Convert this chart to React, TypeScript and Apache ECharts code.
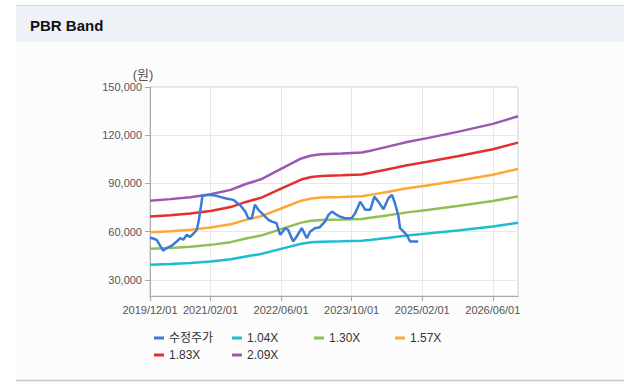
import React, { useEffect, useRef } from 'react';
import * as echarts from 'echarts';

// x positions are in axis units (months along the chart's axis)
const xTickPositions = [0, 12, 26, 40, 54, 68];
const xTickLabels = ['2019/12/01', '2021/02/01', '2022/06/01', '2023/10/01', '2025/02/01', '2026/06/01'];
const xMax = 73;

const yTickValues = [30000, 60000, 90000, 120000, 150000];
const yMin = 20000;
const yMax = 150000;

// 수정주가 : [axis position, price]
const priceSeries: [number, number][] = [
  [0, 56400], [1.3, 55000], [2.0, 51300], [2.6, 48200], [3.3, 49800], [4.3, 51300],
  [5.3, 53900], [6.0, 56000], [6.6, 55000], [7.3, 58100], [7.9, 56700], [8.6, 58700],
  [9.3, 61200], [9.7, 67400], [10.1, 75600], [10.4, 82300], [11.6, 82900], [13.2, 82300],
  [14.9, 80800], [16.5, 79800], [17.9, 76400], [18.9, 72500], [19.5, 68400], [20.2, 68400],
  [20.8, 76700], [21.5, 73600], [22.5, 70500], [23.5, 67400], [24.2, 66300], [25.1, 65300],
  [25.8, 58100], [26.1, 59100], [26.8, 62200], [27.4, 61200], [28.4, 53900], [29.1, 57000],
  [30.1, 62200], [31.1, 56000], [31.8, 60100], [32.7, 62200], [33.7, 62800], [34.7, 66300],
  [35.4, 70500], [36.1, 72500], [37.0, 70500], [37.7, 69400], [38.7, 68400], [40.0, 68400],
  [40.7, 71500], [41.7, 78700], [42.7, 73600], [43.7, 73600], [44.5, 81800], [45.3, 78700],
  [46.3, 74000], [47.3, 80800], [48.0, 82900], [48.6, 77700], [49.3, 69400], [49.6, 62200],
  [50.3, 60100], [50.9, 58100], [51.6, 53900], [53.2, 53900],
];

const bpsSeries: [number, number][] = [
  [0, 37950], [4, 38400], [8, 38950], [12, 39850], [16, 41150], [19, 42900],
  [22, 44300], [26, 47400], [30, 50500], [32, 51400], [34, 51750], [38, 51950],
  [42, 52250], [44, 52900], [47, 53950], [51, 55400], [55, 56550], [61, 58420],
  [68, 60800], [73, 63050],
];

const bandNames = ['1.04X', '1.30X', '1.57X', '1.83X', '2.09X'];
const bandMultiples = [1.04, 1.30, 1.57, 1.83, 2.09];

const priceName = '수정주가';
const priceColor = '#3b7bd6';
const bandColors = ['#1bbdd0', '#8fc152', '#fda833', '#e2312c', '#9c57b3'];

const legendSlots = [
  { left: 154, top: 332 },
  { left: 232, top: 332 },
  { left: 314, top: 332 },
  { left: 395, top: 332 },
  { left: 154, top: 349 },
  { left: 232, top: 349 },
];

const FONT = "'Liberation Sans', 'Noto Sans CJK KR', sans-serif";

export default function App() {
  const ref = useRef<HTMLDivElement>(null);

  useEffect(() => {
    if (!ref.current) return;
    const chart = echarts.init(ref.current, null, { renderer: 'svg' });

    const bandSeries = bandNames.map((name, i) => ({
      name,
      type: 'line',
      data: bpsSeries.map(([t, b]) => [t, Math.round(b * bandMultiples[i])]),
      showSymbol: false,
      symbol: 'none',
      lineStyle: { color: bandColors[i], width: 2.5 },
      itemStyle: { color: bandColors[i] },
      z: 2,
    }));

    const allNames = [priceName, ...bandNames];
    const allColors = [priceColor, ...bandColors];

    const legends = allNames.map((name, i) => ({
      data: [{ name, itemStyle: { color: allColors[i] } }],
      left: legendSlots[i].left,
      top: legendSlots[i].top,
      padding: 0,
      icon: 'rect',
      itemWidth: 10,
      itemHeight: 3,
      selectedMode: false,
      textStyle: { fontSize: 12, color: '#333', fontFamily: FONT },
    }));

    chart.setOption({
      animation: false,
      backgroundColor: '#ffffff',
      graphic: [
        { type: 'rect', z: -10, shape: { x: 16, y: 42, width: 608, height: 338 }, style: { fill: '#fcfcfc' } },
        { type: 'rect', z: -10, shape: { x: 16, y: 6, width: 608, height: 36 }, style: { fill: '#eef1f6' } },
        { type: 'line', z: -9, shape: { x1: 16, y1: 5.5, x2: 624, y2: 5.5 }, style: { stroke: '#d6d8dc', lineWidth: 1 } },
        { type: 'line', z: -9, shape: { x1: 16, y1: 380.5, x2: 624, y2: 380.5 }, style: { stroke: '#c8c8c8', lineWidth: 1.5 } },
        {
          type: 'text', x: 30, y: 25,
          style: { text: 'PBR Band', fontSize: 15, fontWeight: 'bold', fill: '#111', fontFamily: FONT, textVerticalAlign: 'middle' },
        },
        {
          type: 'text', x: 143, y: 74,
          style: { text: '(원)', fontSize: 13, fill: '#555', fontFamily: FONT, textAlign: 'center', textVerticalAlign: 'middle' },
        },
      ],
      legend: legends,
      grid: {
        left: 150, right: 106, top: 87, bottom: 91,
        show: true, borderColor: '#cfcfcf', borderWidth: 1, backgroundColor: '#ffffff',
      },
      xAxis: {
        type: 'value',
        min: 0,
        max: xMax,
        axisLine: { show: true, lineStyle: { color: '#a8a8a8', width: 1 } },
        axisTick: { show: true, length: 5, customValues: xTickPositions, lineStyle: { color: '#a8a8a8' } },
        axisLabel: {
          customValues: xTickPositions,
          formatter: (v: number) => {
            const k = xTickPositions.indexOf(Math.round(v));
            return k >= 0 ? xTickLabels[k] : '';
          },
          fontSize: 11, color: '#555', fontFamily: FONT, margin: 8, showMaxLabel: true, showMinLabel: true,
        },
        splitLine: { show: true, lineStyle: { color: '#e8e8e8', width: 1 } },
      },
      yAxis: {
        type: 'value',
        min: yMin,
        max: yMax,
        axisLine: { show: true, lineStyle: { color: '#a8a8a8', width: 1 } },
        axisTick: { show: true, length: 5, customValues: yTickValues, lineStyle: { color: '#a8a8a8' } },
        axisLabel: {
          customValues: yTickValues,
          formatter: (v: number) => v.toLocaleString('en-US'),
          fontSize: 11, color: '#555', fontFamily: FONT, margin: 8,
        },
        splitLine: { show: true, lineStyle: { color: '#e8e8e8', width: 1 } },
      },
      series: [
        ...bandSeries,
        {
          name: priceName,
          type: 'line',
          data: priceSeries,
          showSymbol: false,
          symbol: 'none',
          lineStyle: { color: priceColor, width: 2.5 },
          itemStyle: { color: priceColor },
          z: 3,
        },
      ],
    });

    return () => chart.dispose();
  }, []);

  return (
    <div
      ref={ref}
      style={{ position: 'fixed', left: 0, top: 0, width: 624, height: 387 }}
    />
  );
}
